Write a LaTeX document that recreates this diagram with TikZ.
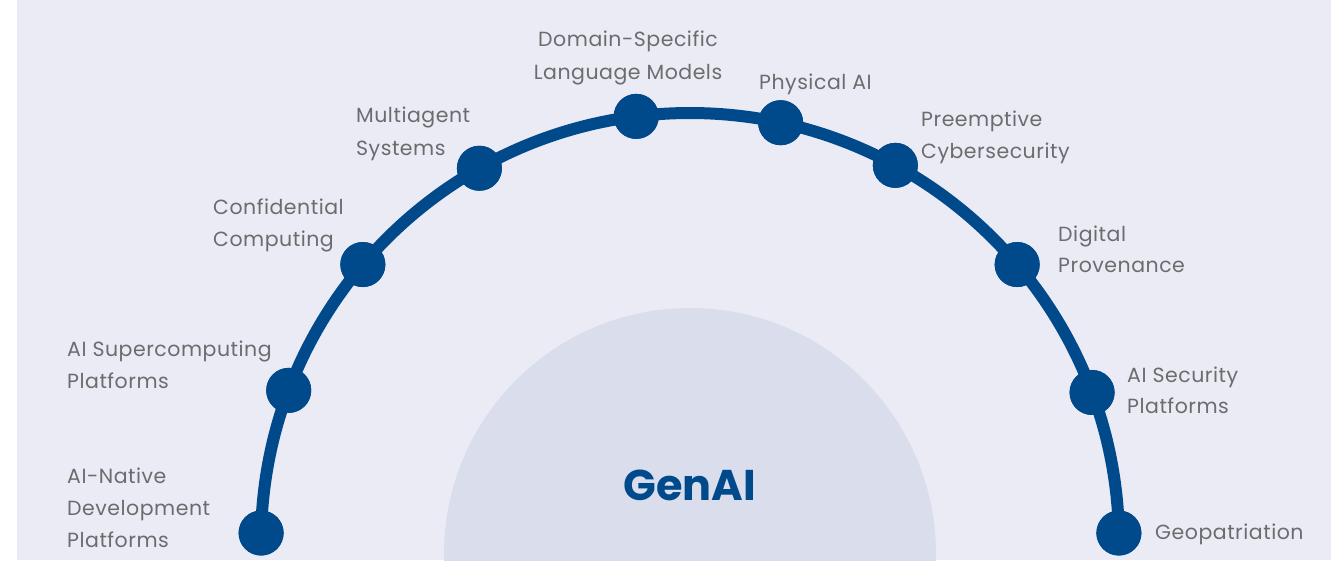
\documentclass[tikz,border=0pt]{standalone}
\usepackage{fontspec}
\setmainfont{Poppins}
\newfontfamily\lblfont[LetterSpace=2.5]{Poppins}
\usetikzlibrary{calc}
\definecolor{bgcol}{RGB}{235,235,245}
\definecolor{innercol}{RGB}{218,222,236}
\definecolor{navy}{RGB}{0,74,140}
\definecolor{txtgray}{RGB}{108,108,110}
\tikzset{
  dot/.style={circle,fill=navy,minimum size=45pt,inner sep=0pt},
  arcline/.style={draw=navy,line width=12pt},
  lbl/.style={anchor=base west,inner sep=0pt,text=txtgray,font=\lblfont\fontsize{20.5}{24}\selectfont},
  lblc/.style={anchor=base,inner sep=0pt,text=txtgray,font=\lblfont\fontsize{20.5}{24}\selectfont},
}
\begin{document}
\begin{tikzpicture}[x=1pt,y=1pt]
\useasboundingbox (0,0) rectangle (1331,560);
\fill[white] (0,0) rectangle (1331,560);
\fill[bgcol] (17,0) rectangle (1331,560);
\coordinate (C) at (690,18);
\coordinate (Ci) at (690,6);
\begin{scope}
\clip (0,0) rectangle (1331,560);
\fill[innercol] (Ci) circle[radius=246];
\end{scope}
\node[inner sep=0pt,text=navy,font=\fontsize{43}{50}\selectfont\bfseries] (gen) at (690,75) {GenAI};
% dots on the arc
\coordinate (d1c) at ($(C)+(178.8:429)$);
\node[dot] (d1) at (d1c) {};
\node[dot] (d2) at ($(C)+(159.3:429)$) {};
\node[dot] (d3) at ($(C)+(139.7:429)$) {};
\node[dot] (d4) at ($(C)+(119.4:429)$) {};
\node[dot] (d5) at ($(C)+(97.2:429)$) {};
\node[dot] (d6) at ($(C)+(77.8:429)$) {};
\node[dot] (d7) at ($(C)+(61.4:429)$) {};
\node[dot] (d8) at ($(C)+(40.3:429)$) {};
\node[dot] (d9) at ($(C)+(20.4:429)$) {};
\node[dot] (d10) at ($(C)+(1.2:429)$) {};
\draw[arcline] (d1.center) arc[start angle=178.8, end angle=1.2, radius=429];
% redraw dots on top of arc
\foreach \n in {d1,d2,d3,d4,d5,d6,d7,d8,d9,d10} {\fill[navy] (\n.center) circle[radius=22.5];}
% labels
\node[lbl] (t1a) at (67,77) {AI-Native};
\node[lbl] (t1b) at (67,45) {Development};
\node[lbl] (t1c) at (67,13) {Platforms};
\node[lbl] (t2a) at (67,203) {AI Supercomputing};
\node[lbl] (t2b) at (67,171) {Platforms};
\node[lbl] (t3a) at (213,345) {Confidential};
\node[lbl] (t3b) at (213,313) {Computing};
\node[lbl] (t4a) at (356,437) {Multiagent};
\node[lbl] (t4b) at (356,404) {Systems};
\node[lblc] (t5a) at (628,513) {Domain-Specific};
\node[lblc] (t5b) at (628,480) {Language Models};
\node[lbl] (t6a) at (759,470) {Physical AI};
\node[lbl] (t7a) at (921,433) {Preemptive};
\node[lbl] (t7b) at (921,401) {Cybersecurity};
\node[lbl] (t8a) at (1058,318) {Digital};
\node[lbl] (t8b) at (1058,287) {Provenance};
\node[lbl] (t9a) at (1127,177) {AI Security};
\node[lbl] (t9b) at (1127,146) {Platforms};
\node[lbl] (t10a) at (1155,21) {Geopatriation};
\end{tikzpicture}
\end{document}
